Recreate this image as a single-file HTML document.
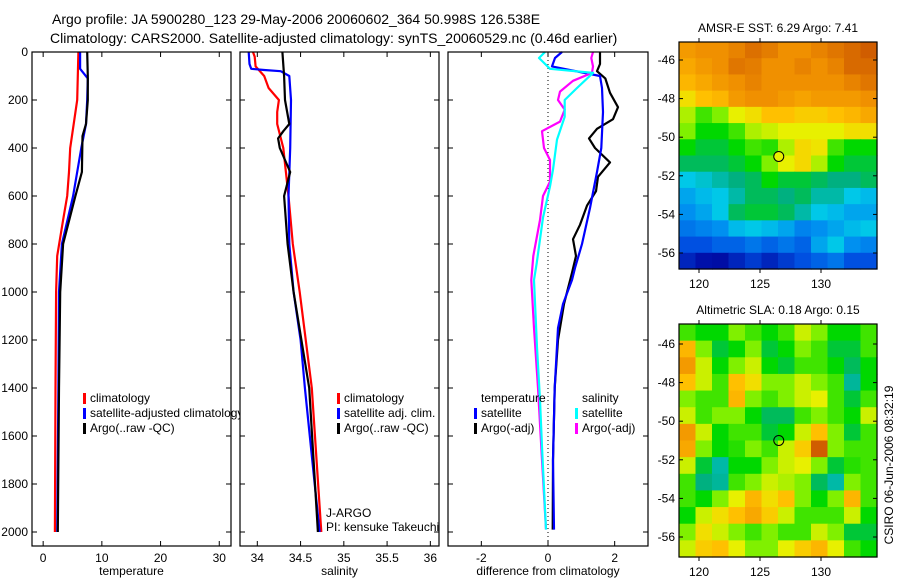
<!DOCTYPE html>
<html><head><meta charset="utf-8"><style>
body{margin:0;background:#fff;font-family:"Liberation Sans",sans-serif;}
svg text{font-family:"Liberation Sans",sans-serif;font-size:12px;fill:#000;}
</style></head><body>
<svg id="fig" width="900" height="580" viewBox="0 0 900 580" xmlns="http://www.w3.org/2000/svg">
<text x="52" y="24" style="font-size:14px">Argo profile: JA 5900280_123 29-May-2006 20060602_364 50.998S 126.538E</text>
<text x="50" y="43" style="font-size:14px">Climatology: CARS2000. Satellite-adjusted climatology: synTS_20060529.nc (0.46d earlier)</text>
<g id="g"></g>
</svg>
<script>
// ---- data ----
const tDepth=[0,100,200,300,400,500,600,700,850,1000,1400,2000];
const tClim=[6.0,5.9,5.8,5.2,4.6,4.4,4.1,3.4,2.4,2.2,2.1,2.0];
const tSatDepth=[0,70,110,200,300,400,600,800,1000,1400,2000];
const tSat=[6.3,6.3,7.6,7.5,7.3,6.5,5.1,3.2,2.7,2.6,2.4];
const tArgoDepth=[0,100,200,300,350,500,600,800,1000,1400,2000];
const tArgo=[7.5,7.6,7.6,7.3,6.7,6.6,5.5,3.4,2.9,2.7,2.5];

const sClimDepth=[0,20,60,100,150,200,250,300,400,500,600,800,1000,1400,2000];
const sClim=[33.95,33.97,33.98,34.08,34.13,34.25,34.23,34.23,34.30,34.33,34.36,34.41,34.49,34.63,34.74];
const sSatDepth=[0,50,70,75,80,100,200,400,600,800,1000,1200,1400,2000];
const sSat=[33.90,33.91,33.93,34.08,34.27,34.37,34.39,34.38,34.36,34.37,34.42,34.50,34.55,34.72];
const sArgoDepth=[0,100,200,300,330,360,400,450,500,600,800,1000,1400,2000];
const sArgo=[34.29,34.31,34.32,34.37,34.30,34.24,34.26,34.32,34.38,34.31,34.35,34.42,34.60,34.70];

const dCyanDepth=[0,25,70,87,150,200,270,365,490,560,690,880,950,1230,1450,1645,1990];
const dCyan=[-0.09,-0.27,0.06,1.35,0.87,0.5,0.5,0.27,0.15,0.06,-0.15,-0.34,-0.42,-0.33,-0.24,-0.18,-0.06];
const dMagDepth=[0,25,60,87,120,165,200,240,290,330,400,450,540,600,700,850,950,1150,1400,1700,1990];
const dMag=[1.35,1.3,1.35,1.32,0.75,0.36,0.3,0.5,0.36,-0.18,-0.12,0.06,0.06,-0.15,-0.24,-0.44,-0.5,-0.42,-0.3,-0.18,-0.06];
const dBlueDepth=[0,25,60,100,150,250,400,500,650,800,900,950,1050,1150,1400,1700,1990];
const dBlue=[0.42,0.21,0.12,1.56,1.62,1.65,1.6,1.47,1.26,1.02,0.81,0.72,0.45,0.3,0.2,0.15,0.18];
const dBlackDepth=[0,50,80,110,170,230,280,320,360,400,460,520,580,640,720,780,850,920,1050,1200,1400,1700,1990];
const dBlack=[1.56,1.56,1.47,1.72,1.86,2.1,1.95,1.47,1.23,1.41,1.86,1.5,1.44,1.17,0.96,0.75,0.84,0.72,0.48,0.3,0.2,0.15,0.14];

const depthTicks=[0,200,400,600,800,1000,1200,1400,1600,1800,2000];
const tTicks=[0,10,20,30];
const sTicks=[34,34.5,35,35.5,36];
const dTicks=[-2,0,2];
const latTicks=[-46,-48,-50,-52,-54,-56];
const lonTicks=[120,125,130];

const sstGrid=[
[0.78,0.8,0.8,0.82,0.85,0.83,0.8,0.8,0.82,0.84,0.86,0.88],
[0.75,0.78,0.8,0.84,0.83,0.8,0.8,0.82,0.8,0.82,0.86,0.86],
[0.72,0.75,0.78,0.8,0.82,0.8,0.8,0.8,0.8,0.8,0.82,0.84],
[0.65,0.7,0.72,0.78,0.8,0.8,0.78,0.76,0.78,0.78,0.78,0.8],
[0.58,0.5,0.55,0.62,0.65,0.7,0.7,0.68,0.68,0.7,0.72,0.75],
[0.55,0.45,0.45,0.5,0.58,0.6,0.62,0.62,0.62,0.62,0.65,0.65],
[0.45,0.42,0.42,0.45,0.5,0.48,0.58,0.66,0.64,0.5,0.45,0.45],
[0.4,0.4,0.4,0.42,0.45,0.55,0.62,0.66,0.58,0.45,0.42,0.42],
[0.3,0.32,0.35,0.38,0.4,0.45,0.42,0.42,0.4,0.38,0.38,0.4],
[0.25,0.28,0.3,0.35,0.4,0.4,0.38,0.4,0.35,0.35,0.3,0.28],
[0.22,0.25,0.3,0.4,0.42,0.42,0.4,0.35,0.3,0.28,0.25,0.25],
[0.18,0.2,0.22,0.28,0.3,0.28,0.25,0.2,0.22,0.25,0.28,0.3],
[0.12,0.12,0.15,0.15,0.18,0.15,0.18,0.15,0.25,0.3,0.22,0.2],
[0.08,0.06,0.05,0.08,0.1,0.08,0.1,0.12,0.15,0.18,0.12,0.12]];
const slaGrid=[
[0.5,0.45,0.45,0.55,0.5,0.45,0.5,0.6,0.55,0.45,0.45,0.5],
[0.72,0.55,0.42,0.45,0.55,0.42,0.45,0.55,0.5,0.42,0.42,0.5],
[0.78,0.6,0.45,0.55,0.6,0.45,0.42,0.5,0.5,0.45,0.4,0.45],
[0.7,0.6,0.5,0.7,0.65,0.55,0.55,0.6,0.55,0.5,0.36,0.45],
[0.55,0.5,0.5,0.72,0.55,0.5,0.55,0.6,0.62,0.5,0.42,0.5],
[0.6,0.5,0.55,0.55,0.45,0.4,0.4,0.5,0.55,0.5,0.45,0.6],
[0.78,0.6,0.45,0.5,0.5,0.42,0.45,0.6,0.7,0.55,0.42,0.5],
[0.75,0.55,0.45,0.48,0.55,0.5,0.6,0.68,0.88,0.55,0.5,0.5],
[0.6,0.42,0.35,0.45,0.45,0.55,0.6,0.62,0.55,0.42,0.48,0.5],
[0.5,0.38,0.36,0.5,0.55,0.6,0.58,0.55,0.4,0.35,0.55,0.5],
[0.5,0.45,0.55,0.62,0.72,0.65,0.7,0.55,0.45,0.55,0.72,0.5],
[0.45,0.6,0.65,0.7,0.75,0.68,0.6,0.5,0.5,0.5,0.6,0.45],
[0.55,0.65,0.6,0.55,0.5,0.55,0.5,0.5,0.6,0.55,0.42,0.42],
[0.6,0.68,0.7,0.62,0.55,0.55,0.62,0.68,0.72,0.62,0.5,0.45]];
const argoLon=126.538, argoLat=-50.998;

// ---- rendering ----
const NS='http://www.w3.org/2000/svg';
const G=document.getElementById('g');
function mk(tag,attrs,parent){const e=document.createElementNS(NS,tag);for(const k in attrs)e.setAttribute(k,attrs[k]);(parent||G).appendChild(e);return e;}
function txt(x,y,s,anchor,parent){const t=mk('text',{x:x,y:y,'text-anchor':anchor||'start'},parent);t.textContent=s;return t;}

const yTop=52, yPx=0.24, frameTop=52, frameBot=546;
const yD=d=>yTop+d*yPx;

function panel(name,x0,x1,xmin,xmax,ticks,label,showY){
  const sx=v=>x0+(v-xmin)/(xmax-xmin)*(x1-x0);
  const g=mk('g',{});
  
  
  const r=mk('rect',{x:x0,y:frameTop,width:x1-x0,height:frameBot-frameTop,fill:'#fff',stroke:'none'},g);
  
  
  depthTicks.forEach(d=>{
    mk('line',{x1:x0,x2:x0+5,y1:yD(d),y2:yD(d),stroke:'#000'},g);
    mk('line',{x1:x1-5,x2:x1,y1:yD(d),y2:yD(d),stroke:'#000'},g);
    if(showY){const t=txt(x0-4,yD(d)+4,String(d),'end',g);
      
      }
  });
  ticks.forEach(v=>{
    mk('line',{x1:sx(v),x2:sx(v),y1:frameTop,y2:frameTop+5,stroke:'#000'},g);
    mk('line',{x1:sx(v),x2:sx(v),y1:frameBot-5,y2:frameBot,stroke:'#000'},g);
    const t=txt(sx(v),frameBot+16,String(v),'middle',g);
    
    
  });
  const xl=txt((x0+x1)/2,frameBot+29,label,'middle',g);
  
  
  return {sx,g,x0,x1};
}
function series(p,depths,vals,color,name){
  const pts=depths.map((d,i)=>p.sx(vals[i]).toFixed(1)+','+yD(d).toFixed(1)).join(' ');
  const l=mk('polyline',{points:pts,fill:'none',stroke:color,'stroke-width':2.2,'stroke-linejoin':'round'},p.g);
  
  
}
function frame(p){mk('rect',{x:p.x0,y:frameTop,width:p.x1-p.x0,height:frameBot-frameTop,fill:'none',stroke:'#000','stroke-width':1.2},p.g);}
function legend(x,y,color,label,parent,nm){
  if(color){const b=mk('rect',{x:x,y:y-9,width:3,height:11,fill:color},parent);
    
    }
  const t=txt(x+7,y,label,'start',parent);
  
  
}

// panel 1 temperature
const p1=panel('temperature',32,231,-1.9,32,tTicks,'temperature',true);
series(p1,tDepth,tClim,'#f00','temp-climatology-line');
series(p1,tSatDepth,tSat,'#00f','temp-satellite-line');
series(p1,tArgoDepth,tArgo,'#000','temp-argo-line');
frame(p1);
legend(83,402,'#f00','climatology',p1.g,'legend-climatology');
legend(83,417,'#00f','satellite-adjusted climatology',p1.g,'legend-satellite-adjusted');
legend(83,432,'#000','Argo(..raw -QC)',p1.g,'legend-argo');

// panel 2 salinity
const p2=panel('salinity',240,439,33.8,36.1,sTicks,'salinity',false);
series(p2,sClimDepth,sClim,'#f00','sal-climatology-line');
series(p2,sSatDepth,sSat,'#00f','sal-satellite-line');
series(p2,sArgoDepth,sArgo,'#000','sal-argo-line');
frame(p2);
legend(337,402,'#f00','climatology',p2.g,'legend2-climatology');
legend(337,417,'#00f','satellite adj. clim.',p2.g,'legend2-satellite');
legend(337,432,'#000','Argo(..raw -QC)',p2.g,'legend2-argo');
legend(319,517,null,'J-ARGO',p2.g,'agency-label');
legend(319,531,null,'PI: kensuke Takeuchi',p2.g,'pi-label');

// panel 3 difference
const p3=panel('difference',448,648,-3,3,dTicks,'difference from climatology',false);
const z=mk('line',{x1:p3.sx(0),x2:p3.sx(0),y1:frameTop,y2:frameBot,stroke:'#000','stroke-dasharray':'1,3'},p3.g);


series(p3,dBlackDepth,dBlack,'#000','diff-temp-argo-line');
series(p3,dBlueDepth,dBlue,'#00f','diff-temp-satellite-line');
series(p3,dMagDepth,dMag,'#f0f','diff-sal-argo-line');
series(p3,dCyanDepth,dCyan,'#0ff','diff-sal-satellite-line');
frame(p3);
legend(474,402,null,'temperature',p3.g,'legend3-temperature-heading');
legend(474,417,'#00f','satellite',p3.g,'legend3-temp-satellite');
legend(474,432,'#000','Argo(-adj)',p3.g,'legend3-temp-argo');
legend(575,402,null,'salinity',p3.g,'legend3-salinity-heading');
legend(575,417,'#0ff','satellite',p3.g,'legend3-sal-satellite');
legend(575,432,'#f0f','Argo(-adj)',p3.g,'legend3-sal-argo');

// colormap
const stops=[[0,[0,0,140]],[0.06,[0,16,170]],[0.12,[0,80,225]],[0.22,[0,144,240]],[0.3,[0,200,232]],[0.38,[0,176,128]],[0.45,[0,216,0]],[0.55,[128,240,0]],[0.62,[232,240,0]],[0.7,[255,192,0]],[0.8,[240,144,0]],[0.9,[200,80,0]],[1,[160,30,0]]];
function cmap(v){for(let i=1;i<stops.length;i++){if(v<=stops[i][0]){const a=stops[i-1],b=stops[i],t=(v-a[0])/(b[0]-a[0]);return 'rgb('+a[1].map((c,k)=>Math.round(c+(b[1][k]-c)*t)).join(',')+')';}}return 'rgb(160,30,0)';}

function map(name,title,grid,x0,x1,y0,y1,lat46y,circleFill){
  const g=mk('g',{});
  
  
  const lonS=12.2, latS=19.3;
  const sx=lon=>699+(lon-120)*lonS;
  const sy=lat=>lat46y+(-46-lat)*latS;
  const rows=grid.length, cols=grid[0].length;
  const cw=(x1-x0)/cols, ch=(y1-y0)/rows;
  grid.forEach((row,r)=>row.forEach((v,c)=>{
    const cell=mk('rect',{x:(x0+c*cw).toFixed(2),y:(y0+r*ch).toFixed(2),width:(cw+0.6).toFixed(2),height:(ch+0.6).toFixed(2),fill:cmap(v)},g);
    
    
  }));
  mk('rect',{x:x0,y:y0,width:x1-x0,height:y1-y0,fill:'none',stroke:'#000','stroke-width':1.2},g);
  latTicks.forEach(l=>{
    mk('line',{x1:x0,x2:x0+4,y1:sy(l),y2:sy(l),stroke:'#000'},g);
    mk('line',{x1:x1-4,x2:x1,y1:sy(l),y2:sy(l),stroke:'#000'},g);
    const t=txt(x0-4,sy(l)+4,String(l),'end',g);
    
    
  });
  lonTicks.forEach(l=>{
    mk('line',{x1:sx(l),x2:sx(l),y1:y0-4,y2:y0,stroke:'#000'},g);
    mk('line',{x1:sx(l),x2:sx(l),y1:y1,y2:y1+4,stroke:'#000'},g);
    const t=txt(sx(l),y1+19,String(l),'middle',g);
    
    
  });
  const tt=txt((x0+x1)/2,y0-10,title,'middle',g);
  
  
  const c=mk('circle',{cx:sx(argoLon),cy:sy(argoLat),r:5,fill:circleFill,stroke:'#000','stroke-width':1},g);
  
  
}
map('sst-map','AMSR-E SST: 6.29 Argo: 7.41',sstGrid,679,877,42,269,60,'#e8f000');
map('sla-map','Altimetric SLA: 0.18 Argo: 0.15',slaGrid,679,877,324,557,344,'none');

const cs=mk('text',{x:0,y:0,transform:'translate(893,465) rotate(-90)','text-anchor':'middle'});
cs.textContent='CSIRO 06-Jun-2006 08:32:19';


</script>
</body></html>
